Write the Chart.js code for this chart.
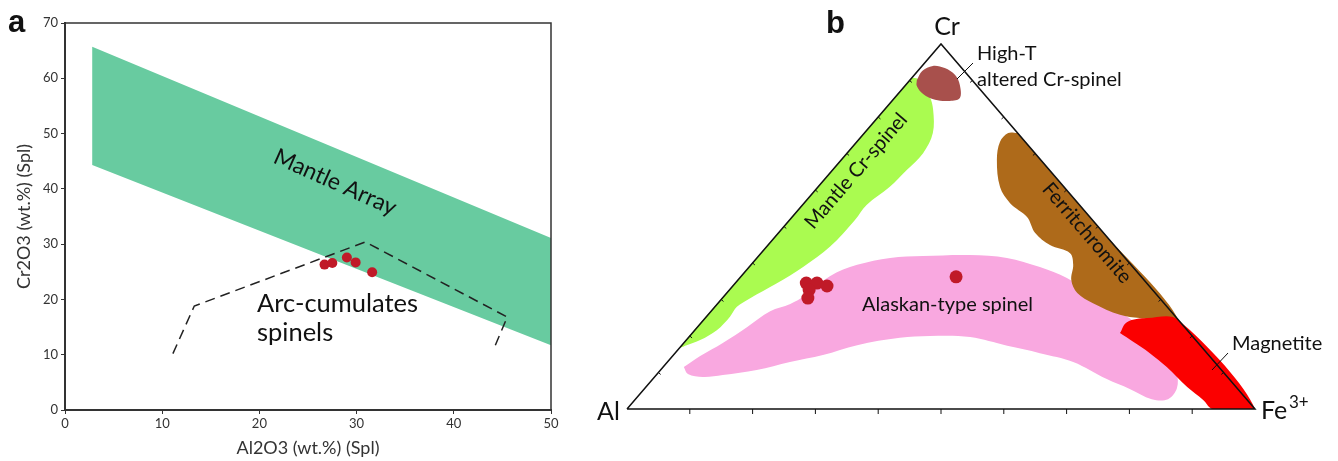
<!DOCTYPE html>
<html>
<head>
<meta charset="utf-8">
<script src="https://cdn.jsdelivr.net/npm/chart.js@4.4.1/dist/chart.umd.min.js"></script>
<style>
  body { margin: 0; background: #fff; }
  #wrap { position: relative; width: 1338px; height: 461px; }
  canvas { position: absolute; top: 0; }
  #chartA { left: 0; }
  #chartB { left: 580px; }
</style>
</head>
<body>
<div id="wrap">
  <canvas id="chartA" width="580" height="461"></canvas>
  <canvas id="chartB" width="758" height="461"></canvas>
</div>
<script>
// ---------- panel a : Cr2O3 vs Al2O3 (wt.%) ----------
var xTicks = [0, 10, 20, 30, 40, 50];
var yTicks = [0, 10, 20, 30, 40, 50, 60, 70];

// mantle array band (corners)
var mantleAl = [2.8, 50, 50, 2.8, 2.8];
var mantleCr = [65.7, 31.1, 11.7, 44.3, 65.7];

// arc-cumulate spinel field (dashed)
var arcAl = [11.1, 13.3, 30.9, 45.5, 44.1];
var arcCr = [10.2, 18.8, 30.4, 16.8, 11.0];

// analysed spinels
var splAl = [26.7, 27.5, 29.0, 29.9, 31.6];
var splCr = [26.3, 26.6, 27.6, 26.7, 24.9];

// ---------- panel b : Cr - Al - Fe3+ ternary, points are [Cr, Fe3+] in % ----------
var ternTicks = [10, 20, 30, 40, 50, 60, 70, 80, 90];
var frame = [[0, 0], [100, 0], [0, 100], [0, 0]];   // Al, Cr, Fe3+, Al

var highT = [[90.1, 1.1], [92.6, 0.7], [94.0, 1.7], [93.4, 3.9], [91.5, 6.5], [88.8, 8.6],
             [85.2, 10.4], [84.4, 9.2], [84.7, 6.7], [86.3, 4.0], [88.5, 1.9], [90.1, 1.1]];

var mantleCrSp = [[90.8, 0], [90.1, 1.6], [85.6, 5.4], [81.9, 7.8], [75.6, 10.9], [70.1, 12.1],
                  [65.5, 11.8], [60.9, 11.4], [55.9, 10.2], [51.8, 10.4], [44.5, 10.1], [39.0, 8.6],
                  [34.4, 6.6], [30.3, 4.4], [28.0, 3.5], [25.3, 3.75], [21.6, 3.5], [18.9, 2.2],
                  [17.5, 0.75], [17.0, 0], [40, 0], [65, 0], [90.8, 0]];

var alaskan = [[11.5, 3.3], [14.5, 4.4], [18.1, 6.2], [22.5, 7.9], [26.8, 9.4], [28.8, 11.6],
               [31.0, 12.8], [36.4, 14.1], [39.5, 16.9], [41.4, 21.2], [41.9, 26.2], [42.2, 33.5],
               [41.4, 39.8], [38.9, 46.3], [35.9, 52.1], [31.8, 57.8], [27.7, 63.5], [23.8, 69.0],
               [17.5, 76.1], [10.1, 82.4], [5.75, 84.7], [2.7, 84.8], [2.7, 82.2], [5.5, 77.3],
               [8.2, 72.3], [12.9, 64.6], [15.3, 58.1], [17.3, 51.9], [19.7, 44.8], [20.0, 38.2],
               [19.5, 33.7], [17.5, 27.9], [14.8, 23.8], [12.9, 19.5], [10.7, 15.3], [9.3, 10.6],
               [8.8, 7.7], [9.6, 4.9], [11.5, 3.3]];

var ferritchromite = [[75.6, 24.4], [75.6, 22.9], [73.2, 22.8], [68.2, 24.8], [60.8, 29.0],
                      [56.4, 32.8], [52.6, 37.4], [48.2, 40.9], [44.9, 44.9], [42.7, 49.2],
                      [39.5, 51.3], [35.3, 53.1], [31.8, 55.8], [29.0, 59.7], [25.8, 65.6],
                      [24.9, 69.2], [24.4, 75.6], [50, 50], [75.6, 24.4]];

var magnetite = [[20.8, 68.1], [23.8, 67.7], [24.9, 70.4], [24.4, 75.6], [0, 100], [0, 93.3],
                 [2.5, 90.5], [6.0, 86.2], [11.5, 80.2], [15.3, 75.6], [18.4, 71.4], [20.8, 68.1]];

var samplesB = [[34.5, 11.3], [34.5, 13.0], [33.7, 15.0], [32.6, 12.7], [30.4, 13.6], [36.2, 34.3]];

var FONT = 'Lato, "Open Sans", sans-serif';

function xy(xs, ys) {
  return xs.map(function (v, i) { return { x: v, y: ys[i] }; });
}
// ternary [Cr, Fe] -> triangle coords (x along Al-Fe base, y = Cr)
function tern(pts) {
  return pts.map(function (p) { return { x: p[1] + p[0] / 2, y: p[0] }; });
}

// ---------- chart a ----------
var frameA = {
  id: 'frameA',
  afterDraw: function (chart) {
    var ctx = chart.ctx, a = chart.chartArea;
    var sx = chart.scales.x, sy = chart.scales.y;
    ctx.save();
    ctx.strokeStyle = '#333';
    ctx.lineWidth = 1.5;
    ctx.beginPath();
    ctx.moveTo(a.left, a.top);
    ctx.lineTo(a.right, a.top);
    ctx.lineTo(a.right, a.bottom);
    ctx.stroke();

    ctx.fillStyle = '#111';
    ctx.font = 'bold 31px "Liberation Sans"';
    ctx.fillText('a', 8, 32);

    ctx.font = '23px ' + FONT;
    ctx.save();
    ctx.translate(sx.getPixelForValue(27.8), sy.getPixelForValue(41.2));
    ctx.rotate(24 * Math.PI / 180);
    ctx.textAlign = 'center';
    ctx.textBaseline = 'middle';
    ctx.fillText('Mantle Array', 0, 0);
    ctx.restore();

    ctx.font = '25.5px ' + FONT;
    ctx.textBaseline = 'middle';
    ctx.fillText('Arc-cumulates', sx.getPixelForValue(19.75), sy.getPixelForValue(19.2));
    ctx.fillText('spinels', sx.getPixelForValue(19.75), sy.getPixelForValue(13.9));
    ctx.restore();
  }
};

new Chart(document.getElementById('chartA'), {
  type: 'scatter',
  data: {
    datasets: [
      { data: xy(splAl, splCr), order: 0, pointRadius: 5, pointBackgroundColor: '#c01a28',
        pointBorderWidth: 0, showLine: false },
      { data: xy(arcAl, arcCr), order: 1, showLine: true, borderColor: '#222', borderWidth: 1.5,
        borderDash: [10, 6], pointRadius: 0, fill: false },
      { data: xy(mantleAl, mantleCr), order: 2, showLine: true, borderWidth: 0,
        backgroundColor: '#68cba0', fill: 'shape', pointRadius: 0 }
    ]
  },
  options: {
    responsive: false,
    animation: false,
    events: [],
    devicePixelRatio: 1,
    layout: { padding: { top: 23, right: 29, left: 0, bottom: 0 } },
    plugins: { legend: { display: false }, tooltip: { enabled: false } },
    scales: {
      x: {
        min: 0, max: 50,
        afterBuildTicks: function (s) { s.ticks = xTicks.map(function (v) { return { value: v }; }); },
        afterFit: function (s) { s.height = 51; },
        ticks: { color: '#333', font: { size: 13, family: FONT }, padding: 2, maxRotation: 0 },
        grid: { drawOnChartArea: false, tickLength: 4, color: '#333' },
        border: { color: '#333', width: 2 },
        title: { display: true, text: 'Al2O3 (wt.%) (Spl)', color: '#333',
                 font: { size: 18, family: FONT }, padding: { top: 0, bottom: 2.5 } }
      },
      y: {
        min: 0, max: 70,
        afterBuildTicks: function (s) { s.ticks = yTicks.map(function (v) { return { value: v }; }); },
        afterFit: function (s) { s.width = 65; },
        ticks: { color: '#333', font: { size: 13, family: FONT }, padding: 3 },
        grid: { drawOnChartArea: false, tickLength: 4, color: '#333' },
        border: { color: '#333', width: 2 },
        title: { display: true, text: 'Cr2O3 (wt.%) (Spl)', color: '#333',
                 font: { size: 18, family: FONT }, padding: { top: 13.5, bottom: 0 } }
      }
    }
  },
  plugins: [frameA]
});

// ---------- chart b ----------
var OX = 580; // page offset of canvas b

var labelsB = {
  id: 'labelsB',
  afterDatasetsDraw: function (chart) {
    var ctx = chart.ctx;
    var sx = chart.scales.x, sy = chart.scales.y;
    function P(cr, fe) { return [sx.getPixelForValue(fe + cr / 2), sy.getPixelForValue(cr)]; }
    ctx.save();
    ctx.strokeStyle = '#111';
    ctx.lineWidth = 1;
    var nL = [0.758, 0.652], nR = [-0.758, 0.652];
    ternTicks.forEach(function (t) {
      var b = P(0, t);
      ctx.beginPath(); ctx.moveTo(b[0], b[1]); ctx.lineTo(b[0], b[1] + 5); ctx.stroke();
      var l = P(t, 0);
      ctx.beginPath(); ctx.moveTo(l[0], l[1]); ctx.lineTo(l[0] + 3 * nL[0], l[1] + 3 * nL[1]); ctx.stroke();
      var r = P(t, 100 - t);
      ctx.beginPath(); ctx.moveTo(r[0], r[1]); ctx.lineTo(r[0] + 3 * nR[0], r[1] + 3 * nR[1]); ctx.stroke();
    });

    // leader lines
    ctx.beginPath(); ctx.moveTo(957 - OX, 79); ctx.lineTo(973 - OX, 63); ctx.stroke();
    ctx.beginPath(); ctx.moveTo(1212 - OX, 370); ctx.lineTo(1228 - OX, 353); ctx.stroke();

    ctx.fillStyle = '#111';
    ctx.font = 'bold 31px "Liberation Sans"';
    ctx.fillText('b', 826 - OX, 33);

    ctx.font = '25px ' + FONT;
    ctx.textAlign = 'center';
    ctx.fillText('Cr', 947 - OX, 35);
    ctx.textAlign = 'left';
    ctx.fillText('Al', 597 - OX, 420);
    ctx.fillText('Fe', 1261 - OX, 419);
    ctx.font = '17px ' + FONT;
    ctx.fillText('3+', 1289 - OX, 408);

    ctx.font = '20px ' + FONT;
    ctx.fillText('High-T', 977 - OX, 60);
    ctx.fillText('altered Cr-spinel', 977 - OX, 86);
    ctx.fillText('Magnetite', 1232 - OX, 350);
    ctx.fillText('Alaskan-type spinel', 862 - OX, 311);

    ctx.textAlign = 'center';
    ctx.textBaseline = 'middle';
    ctx.save();
    ctx.translate(856 - OX, 171);
    ctx.rotate(-49.3 * Math.PI / 180);
    ctx.fillText('Mantle Cr-spinel', 0, 0);
    ctx.restore();
    ctx.save();
    ctx.translate(1087 - OX, 233);
    ctx.rotate(49.3 * Math.PI / 180);
    ctx.fillText('Ferritchromite', 0, 0);
    ctx.restore();
    ctx.restore();
  }
};

function field(pts, color, order) {
  return { data: tern(pts), order: order, showLine: true, borderWidth: 0, tension: 0.35,
           backgroundColor: color, fill: 'shape', pointRadius: 0, clip: false };
}

new Chart(document.getElementById('chartB'), {
  type: 'scatter',
  data: {
    datasets: [
      { data: tern(samplesB), order: 0, pointRadius: 6.5, pointBackgroundColor: '#c01a28',
        pointBorderWidth: 0, showLine: false, clip: false },
      { data: tern(frame), order: 1, showLine: true, borderColor: '#111', borderWidth: 1.5,
        pointRadius: 0, fill: false, clip: false, tension: 0 },
      field(magnetite, '#fb0000', 2),
      field(ferritchromite, '#ae6a1a', 3),
      field(alaskan, '#f9a8e0', 4),
      field(highT, '#a8504c', 5),
      field(mantleCrSp, '#aafb50', 6)
    ]
  },
  options: {
    responsive: false,
    animation: false,
    events: [],
    devicePixelRatio: 1,
    layout: { padding: { left: 47, right: 83, top: 44, bottom: 52 } },
    plugins: { legend: { display: false }, tooltip: { enabled: false } },
    scales: {
      x: { display: false, min: 0, max: 100 },
      y: { display: false, min: 0, max: 100 }
    }
  },
  plugins: [labelsB]
});
</script>
</body>
</html>
